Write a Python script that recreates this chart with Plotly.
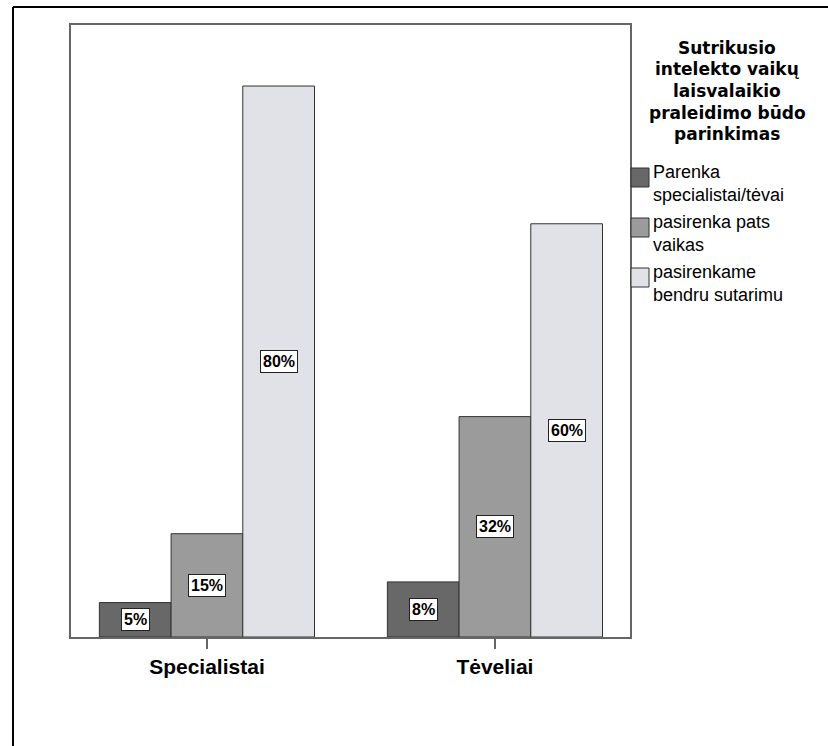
import plotly.graph_objects as go

# data
groups = ["Specialistai", "Tėveliai"]
series_names = [
    "Parenka<br>specialistai/tėvai",
    "pasirenka pats<br>vaikas",
    "pasirenkame<br>bendru sutarimu",
]
values = [
    [5, 8],     # Parenka specialistai/tėvai
    [15, 32],   # pasirenka pats vaikas
    [80, 60],   # pasirenkame bendru sutarimu
]
bar_colors = ["#686868", "#9b9b9b", "#e1e1e8"]
title_lines = ["Sutrikusio", "intelekto vaikų", "laisvalaikio", "praleidimo būdo", "parinkimas"]

W, H = 828, 746
L, R, T, B = 71, 198, 25, 109
pw, ph = W - L - R, H - T - B
bargap = 0.253
bw = (1 - bargap) / len(values)
FONT = "Liberation Sans, Arial"


def px_x(p):
    return (p - L) / pw


def px_y(p):
    return (H - B - p) / ph


fig = go.Figure()
for name, vals, col in zip(series_names, values, bar_colors):
    fig.add_trace(go.Bar(
        x=groups, y=vals, name=name,
        marker=dict(color=col, line=dict(color="#333333", width=1)),
        hoverinfo="skip", showlegend=False,
    ))

annotations = []
shapes = []

# percentage labels in white boxes, centered in each bar
for k, vals in enumerate(values):
    for g, v in enumerate(vals):
        annotations.append(dict(
            x=g + (k - (len(values) - 1) / 2) * bw, y=v / 2,
            xref="x", yref="y", text=f"<b>{v}%</b>", showarrow=False,
            font=dict(family=FONT, size=16, color="black"),
            bgcolor="white", bordercolor="#222222", borderwidth=1, borderpad=2,
        ))

# legend title, one line at a time (tight line spacing)
for i, line in enumerate(title_lines):
    annotations.append(dict(
        x=px_x(727), y=px_y(48 + i * 21.5), xref="paper", yref="paper",
        xanchor="center", yanchor="middle", showarrow=False,
        text="<b>" + line + "</b>",
        font=dict(family="DejaVu Sans", size=17, color="black"),
    ))

# legend entries: swatch + label
for i, (name, col) in enumerate(zip(series_names, bar_colors)):
    top = 168 + i * 50
    shapes.append(dict(
        type="rect", xref="paper", yref="paper",
        x0=px_x(631), x1=px_x(649), y0=px_y(top), y1=px_y(top + 19),
        fillcolor=col, line=dict(color="#333333", width=1),
    ))
    annotations.append(dict(
        x=px_x(651), y=px_y(top - 8), xref="paper", yref="paper",
        xanchor="left", yanchor="top", align="left", showarrow=False, text=name,
        font=dict(family=FONT, size=18, color="black"),
    ))

# outer frame (left and top edges)
shapes += [
    dict(type="line", xref="paper", yref="paper",
         x0=px_x(13), x1=px_x(W + 5), y0=px_y(7), y1=px_y(7),
         line=dict(color="black", width=2)),
    dict(type="line", xref="paper", yref="paper",
         x0=px_x(13), x1=px_x(13), y0=px_y(7), y1=px_y(H + 5),
         line=dict(color="black", width=2)),
]

fig.update_layout(
    width=W, height=H,
    margin=dict(l=L, r=R, t=T, b=B),
    paper_bgcolor="white", plot_bgcolor="white",
    barmode="group", bargap=bargap, bargroupgap=0,
    annotations=annotations, shapes=shapes,
    showlegend=False,
    font=dict(family=FONT, color="black"),
)
fig.update_xaxes(
    range=[-0.472, 1.469], showline=True, mirror=True, linecolor="#666666", linewidth=2,
    ticks="outside", ticklen=10, tickcolor="#666666", tickwidth=1.5,
    tickfont=dict(family=FONT, size=21, color="black"),
    tickprefix="<b>", ticksuffix="</b>", showgrid=False,
)
fig.update_yaxes(
    range=[0, 88.86], showline=True, mirror=True, linecolor="#666666", linewidth=2,
    showticklabels=False, ticks="", showgrid=False, zeroline=False,
)

fig.write_html("out.html", config={"displayModeBar": False},
               post_script="document.body.style.margin='0';")
